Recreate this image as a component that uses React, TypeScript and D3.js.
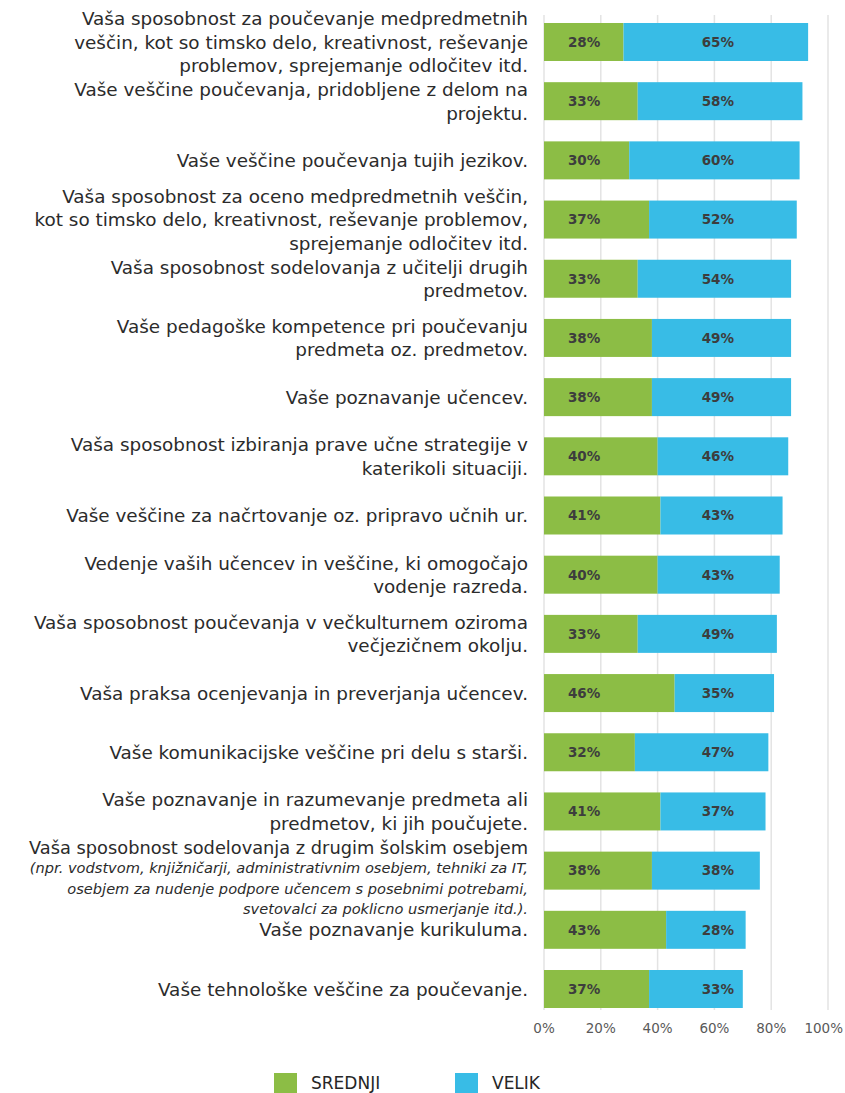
import React from "react";
import * as d3 from "d3";

const categories: string[][] = [
  ["Vaša sposobnost za poučevanje medpredmetnih", "veščin, kot so timsko delo, kreativnost, reševanje", "problemov, sprejemanje odločitev itd."],
  ["Vaše veščine poučevanja, pridobljene z delom na", "projektu."],
  ["Vaše veščine poučevanja tujih jezikov."],
  ["Vaša sposobnost za oceno medpredmetnih veščin,", "kot so timsko delo, kreativnost, reševanje problemov,", "sprejemanje odločitev itd."],
  ["Vaša sposobnost sodelovanja z učitelji drugih", "predmetov."],
  ["Vaše pedagoške kompetence pri poučevanju", "predmeta oz. predmetov."],
  ["Vaše poznavanje učencev."],
  ["Vaša sposobnost izbiranja prave učne strategije v", "katerikoli situaciji."],
  ["Vaše veščine za načrtovanje oz. pripravo učnih ur."],
  ["Vedenje vaših učencev in veščine, ki omogočajo", "vodenje razreda."],
  ["Vaša sposobnost poučevanja v večkulturnem oziroma", "večjezičnem okolju."],
  ["Vaša praksa ocenjevanja in preverjanja učencev."],
  ["Vaše komunikacijske veščine pri delu s starši."],
  ["Vaše poznavanje in razumevanje predmeta ali", "predmetov, ki jih poučujete."],
  ["Vaša sposobnost sodelovanja z drugim šolskim osebjem"],
  ["Vaše poznavanje kurikuluma."],
  ["Vaše tehnološke veščine za poučevanje."],
];
const italicNote: string[] = [
  "(npr. vodstvom, knjižničarji, administrativnim osebjem, tehniki za IT,",
  "osebjem za nudenje podpore učencem s posebnimi potrebami,",
  "svetovalci za poklicno usmerjanje itd.).",
];
const italicRow = 14;

const srednji = [28, 33, 30, 37, 33, 38, 38, 40, 41, 40, 33, 46, 32, 41, 38, 43, 37];
const velik = [65, 58, 60, 52, 54, 49, 49, 46, 43, 43, 49, 35, 47, 37, 38, 28, 33];
const ticks = [0, 20, 40, 60, 80, 100];
const seriesNames = ["SREDNJI", "VELIK"];
const colors = ["#8cbd45", "#38bce6"];

const W = 845;
const H = 1093;
const FONT = "'DejaVu Sans', sans-serif";

export default function App() {
  const ids = categories.map((_, i) => String(i));
  const x = d3.scaleLinear().domain([0, 100]).range([544, 828]);
  const y = d3
    .scaleBand<string>()
    .domain(ids)
    .range([12.4, 1018.6])
    .paddingInner(0.358)
    .paddingOuter(0.179);
  const bw = y.bandwidth();
  const lh = 23.5;

  return (
    <div style={{ position: "absolute", left: 0, top: 0 }}>
      <svg width={W} height={H} style={{ display: "block", background: "#fff" }}>
        {ticks.map((t) => (
          <line key={t} x1={x(t)} x2={x(t)} y1={15} y2={1010} stroke="#e3e3e3" strokeWidth={1.5} />
        ))}
        {ids.map((id, i) => {
          const y0 = y(id)!;
          const cy = y0 + bw / 2;
          const g = srednji[i];
          const b = velik[i];
          return (
            <g key={id}>
              <rect x={x(0)} y={y0} width={x(g) - x(0)} height={bw} fill={colors[0]} />
              <rect x={x(g)} y={y0} width={x(g + b) - x(g)} height={bw} fill={colors[1]} />
              <text x={x(14.1)} y={cy} dy="0.36em" textAnchor="middle" fontFamily={FONT} fontWeight="bold" fontSize={13.5} fill="#3d3d3d">
                {g}%
              </text>
              <text x={x(61.2)} y={cy} dy="0.36em" textAnchor="middle" fontFamily={FONT} fontWeight="bold" fontSize={13.5} fill="#3d3d3d">
                {b}%
              </text>
              {i === italicRow ? (
                <g>
                  <text x={528} y={cy - 23} dy="0.36em" textAnchor="end" fontFamily={FONT} fontSize={17.8} fill="#2b2b2b">
                    {categories[i][0]}
                  </text>
                  {italicNote.map((t, k) => (
                    <text key={k} x={528} y={cy - 2.5 + k * 20.3} dy="0.36em" textAnchor="end" fontFamily={FONT} fontStyle="italic" fontSize={14.6} fill="#2b2b2b">
                      {t}
                    </text>
                  ))}
                </g>
              ) : (
                categories[i].map((line, k) => (
                  <text
                    key={k}
                    x={528}
                    y={cy + (k - (categories[i].length - 1) / 2) * lh}
                    dy="0.36em"
                    textAnchor="end"
                    fontFamily={FONT}
                    fontSize={18.4}
                    fill="#2b2b2b"
                  >
                    {line}
                  </text>
                ))
              )}
            </g>
          );
        })}
        {ticks.map((t, k) => (
          <text
            key={t}
            x={k === ticks.length - 1 ? W - 2 : x(t)}
            y={1028}
            dy="0.36em"
            textAnchor={k === ticks.length - 1 ? "end" : "middle"}
            fontFamily={FONT}
            fontSize={13.5}
            fill="#595959"
          >
            {t}%
          </text>
        ))}
        {seriesNames.map((s, k) => {
          const lx = k === 0 ? 274 : 455;
          return (
            <g key={s}>
              <rect x={lx} y={1073} width={23} height={20} fill={colors[k]} />
              <text x={lx + 37} y={1083} dy="0.36em" fontFamily={FONT} fontSize={17} fill="#262626">
                {s}
              </text>
            </g>
          );
        })}
      </svg>
    </div>
  );
}
